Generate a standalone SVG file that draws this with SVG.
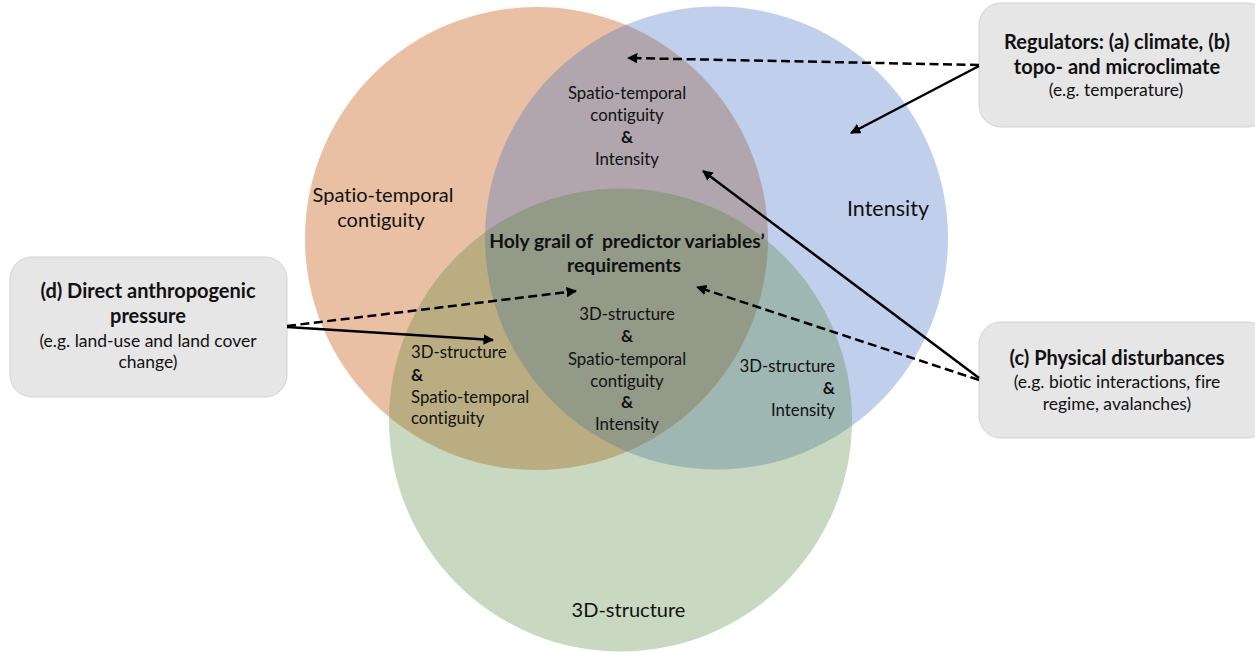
<svg xmlns="http://www.w3.org/2000/svg" width="1255" height="652" viewBox="0 0 1255 652">
<style>
text{font-family:Lato,"Open Sans","Liberation Sans",sans-serif;fill:#111;text-anchor:middle;font-variant-ligatures:none}
.big{font-size:20px}
.mid{font-size:16.8px}
.b{font-weight:bold}
.hb{font-size:19.3px;font-weight:bold;white-space:pre}
.tb{font-size:20px;font-weight:bold}
.tr{font-size:17.5px}
.bx{fill:#E6E6E6;stroke:#D2D2D2;stroke-width:1}
.ln{stroke:#000;stroke-width:2.5;fill:none}
.d{stroke-dasharray:9 4.5}
</style>
<defs>
<marker id="ah" viewBox="0 0 10 10" refX="9" refY="5" markerWidth="4.2" markerHeight="4.2" orient="auto" markerUnits="strokeWidth">
<path d="M0,0 L10,5 L0,10 Z" fill="#000"/>
</marker>
</defs>
<rect width="1255" height="652" fill="#fff"/>
<g id="circle-spatio">
<circle cx="536.5" cy="238.5" r="231.5" fill="#C55A11" fill-opacity="0.38"/>
</g>
<g id="circle-intensity">
<circle cx="716.5" cy="238" r="231.5" fill="#4472C4" fill-opacity="0.337"/>
</g>
<g id="circle-3d">
<circle cx="620.5" cy="420" r="231.5" fill="#548235" fill-opacity="0.312"/>
</g>
<g id="labels">
<text class="big" x="383" y="202">Spatio-temporal</text>
<text class="big" x="381" y="227">contiguity</text>
<text class="big" x="888" y="216" style="font-size:21.5px">Intensity</text>
<text class="big" x="628.5" y="617">3D-structure</text>
<text class="mid" x="627" y="99">Spatio-temporal</text>
<text class="mid" x="627" y="121">contiguity</text>
<text class="mid b" x="627" y="143">&amp;</text>
<text class="mid" x="627" y="165">Intensity</text>
<text class="hb" x="627" y="248">Holy grail of  predictor variables’</text>
<text class="hb" x="624" y="272">requirements</text>
<text class="mid" x="627" y="320">3D-structure</text>
<text class="mid b" x="627" y="342">&amp;</text>
<text class="mid" x="627" y="365">Spatio-temporal</text>
<text class="mid" x="627" y="387">contiguity</text>
<text class="mid b" x="627" y="408">&amp;</text>
<text class="mid" x="627" y="430">Intensity</text>
<text class="mid" x="411" y="358" style="text-anchor:start">3D-structure</text>
<text class="mid b" x="411" y="381" style="text-anchor:start">&amp;</text>
<text class="mid" x="411" y="403" style="text-anchor:start">Spatio-temporal</text>
<text class="mid" x="411" y="424" style="text-anchor:start">contiguity</text>
<text class="mid" x="835" y="372" style="text-anchor:end">3D-structure</text>
<text class="mid b" x="835" y="394" style="text-anchor:end">&amp;</text>
<text class="mid" x="835" y="416" style="text-anchor:end">Intensity</text>
</g>
<g id="box-regulators">
<rect class="bx" x="979" y="3" width="290" height="124" rx="22"/>
<text class="tb" x="1117" y="49">Regulators: (a) climate, (b)</text>
<text class="tb" x="1117" y="74">topo- and microclimate</text>
<text class="tr" x="1116" y="96">(e.g. temperature)</text>
</g>
<g id="box-physical">
<rect class="bx" x="979" y="322" width="290" height="116" rx="22"/>
<text class="tb" x="1117" y="365">(c) Physical disturbances</text>
<text class="tr" x="1117" y="388">(e.g. biotic interactions, fire</text>
<text class="tr" x="1117" y="410">regime, avalanches)</text>
</g>
<g id="box-anthropogenic">
<rect class="bx" x="10" y="257" width="277" height="140" rx="22"/>
<text class="tb" x="148" y="298">(d) Direct anthropogenic</text>
<text class="tb" x="148" y="323">pressure</text>
<text class="tr" x="148" y="347">(e.g. land-use and land cover</text>
<text class="tr" x="148" y="368">change)</text>
</g>
<g id="connectors">
<line class="ln d" x1="979" y1="65" x2="628" y2="58" marker-end="url(#ah)"/>
<line class="ln" x1="979" y1="66" x2="851" y2="133" marker-end="url(#ah)"/>
<line class="ln" x1="979" y1="378" x2="703" y2="171" marker-end="url(#ah)"/>
<line class="ln d" x1="979" y1="380" x2="697" y2="287" marker-end="url(#ah)"/>
<line class="ln d" x1="287" y1="326" x2="576" y2="291" marker-end="url(#ah)"/>
<line class="ln" x1="287" y1="327" x2="493" y2="340" marker-end="url(#ah)"/>
</g>
</svg>
